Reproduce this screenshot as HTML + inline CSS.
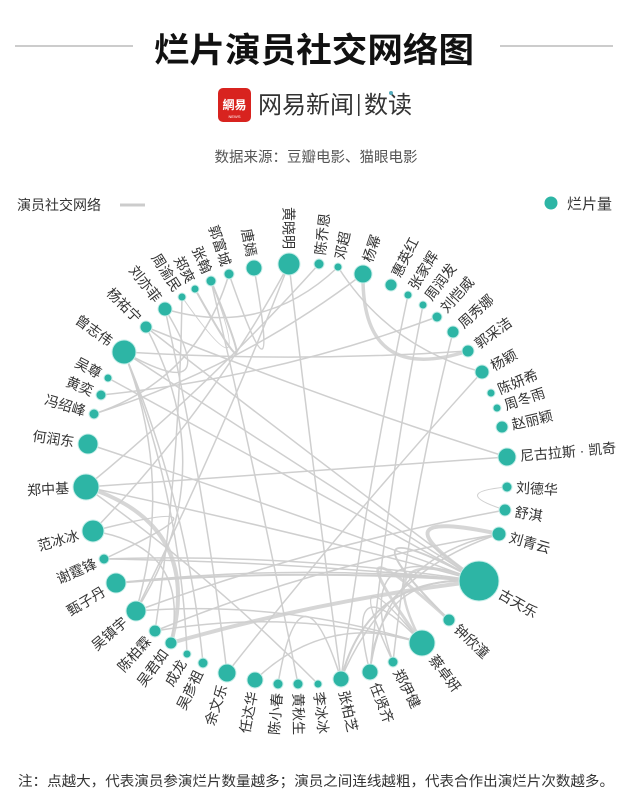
<!DOCTYPE html>
<html><head><meta charset="utf-8"><style>
body{margin:0;background:#fff;}
svg{display:block;font-family:"Liberation Sans","Noto Sans CJK SC",sans-serif;}
</style></head><body>
<svg id="s" width="627" height="803" viewBox="0 0 627 803" xmlns="http://www.w3.org/2000/svg">
<rect width="627" height="803" fill="#fff"/>
<line x1="15" y1="46" x2="133" y2="46" stroke="#bbb" stroke-width="1.5"/>
<line x1="500" y1="46" x2="613" y2="46" stroke="#bbb" stroke-width="1.5"/>
<text x="314" y="62" text-anchor="middle" font-size="34" font-weight="bold" fill="#111" textLength="320" lengthAdjust="spacingAndGlyphs">烂片演员社交网络图</text>
<rect x="218" y="88" width="33" height="34" rx="5" fill="#d8231f"/>
<text x="234.5" y="109" text-anchor="middle" font-size="12" fill="#fff" font-weight="bold">網易</text>
<text x="234.5" y="118" text-anchor="middle" font-size="4" fill="#fff">NEWS</text>
<text x="258" y="113" font-size="24" fill="#333">网易新闻</text>
<rect x="358" y="94" width="1.5" height="22" fill="#333"/>
<text x="364" y="113" font-size="24" fill="#333">数读</text>
<circle cx="391" cy="93" r="2" fill="#5ab"/>
<text x="316" y="162" text-anchor="middle" font-size="14.5" fill="#555">数据来源：豆瓣电影、猫眼电影</text>
<text x="17" y="210" font-size="14" fill="#333">演员社交网络</text>
<line x1="120" y1="205" x2="145" y2="205" stroke="#ccc" stroke-width="3"/>
<circle cx="551" cy="203" r="6.5" fill="#2db5a5"/>
<text x="567" y="209" font-size="15" fill="#333">烂片量</text>
<g id="edges" fill="none" stroke="#cfcfcf"></g>
<g id="nodes"></g>
<text x="18" y="786" font-size="14" fill="#333" textLength="596" lengthAdjust="spacingAndGlyphs">注：点越大，代表演员参演烂片数量越多；演员之间连线越粗，代表合作出演烂片次数越多。</text>
</svg>
<script>
var C=[295,475];
var N={
"黄晓明":[289,264,11],"唐嫣":[254,268,8],"郭富城":[229,274,5],"张翰":[211,281,5],"郑爽":[195,289,4],"周渝民":[182,297,4],"刘亦菲":[165,309,7],"杨祐宁":[146,327,6],"曾志伟":[124,352,12],"吴尊":[108,378,4],"黄奕":[101,395,5],"冯绍峰":[94,414,5],"何润东":[88,444,10],"郑中基":[86,487,13],
"陈乔恩":[319,264,5],"邓超":[338,267,4],"杨幂":[363,274,9],"惠英红":[391,285,6],"张家辉":[408,295,4],"周润发":[423,305,4],"刘恺威":[437,317,5],"周秀娜":[453,332,6],"郭采洁":[468,351,6],"杨颖":[482,372,7],"陈妍希":[491,393,4],"周冬雨":[497,408,4],"赵丽颖":[502,427,6],"尼古拉斯 · 凯奇":[507,457,9],"刘德华":[507,487,5],
"舒淇":[505,510,6],"刘青云":[499,534,7],"古天乐":[479,581,20],"钟欣潼":[449,620,6],"蔡卓妍":[422,643,13],"郑伊健":[393,662,5],"任贤齐":[370,672,8],"张柏芝":[341,679,8],"李冰冰":[318,684,4],
"黄秋生":[298,684,5],"陈小春":[278,684,5],"任达华":[255,680,8],"余文乐":[227,673,9],"吴彦祖":[203,663,5],"成龙":[187,654,4],"吴君如":[171,643,6],"陈柏霖":[155,631,6],"吴镇宇":[136,611,10],"甄子丹":[116,583,10],"谢霆锋":[104,559,5],"范冰冰":[93,531,11]};
var E=[["古天乐","刘青云",4,.7],["古天乐","吴君如",4,.1],["郑中基","吴君如",4,.5],["杨幂","郭采洁",3.5,.5],["古天乐","蔡卓妍",2.5,.6],["蔡卓妍","钟欣潼",3,.9],["古天乐","钟欣潼",2,.9],
["古天乐","郑中基",1.5,.1],["古天乐","曾志伟",1.5,.1],["古天乐","甄子丹",1.5,.2],["古天乐","谢霆锋",1.5,.2],["古天乐","杨祐宁",1.5,.1],["古天乐","何润东",1.5,.1],["古天乐","张柏芝",2,.4],["古天乐","任贤齐",1.5,.4],
["刘青云","任贤齐",1.5,.4],["刘青云","张柏芝",1.5,.3],["舒淇","吴镇宇",1.5,.2],["刘德华","舒淇",1,.3],["蔡卓妍","陈柏霖",1.5,.2],["蔡卓妍","吴镇宇",1.5,.2],["蔡卓妍","郑伊健",1.5,.7],["蔡卓妍","任贤齐",1.5,.6],
["黄晓明","张柏芝",1.5,.1],["黄晓明","吴镇宇",1.5,.1],["黄晓明","范冰冰",1.5,.2],["唐嫣","郭富城",1.5,.85],["张翰","郑爽",2,.8],["张翰","周渝民",1,.7],["刘亦菲","曾志伟",1.5,.6],["刘亦菲","邓超",1.5,.3],["刘亦菲","余文乐",1.5,.1],
["杨祐宁","尼古拉斯 · 凯奇",1.5,.1],["曾志伟","吴镇宇",1.5,.3],["曾志伟","吴彦祖",1.5,.2],["曾志伟","成龙",1.5,.2],["曾志伟","郭采洁",1.5,.1],["黄奕","刘恺威",1.5,.2],["冯绍峰","杨幂",1.5,.2],["吴尊","古天乐",1.5,.1],
["郑中基","尼古拉斯 · 凯奇",1.5,.05],["郑中基","陈乔恩",1.5,.1],["范冰冰","谢霆锋",1.5,.85],["范冰冰","吴君如",1.5,.4],["谢霆锋","古天乐",1.5,.1],["甄子丹","古天乐",2,.15],["吴镇宇","杨祐宁",1.5,.6],
["陈柏霖","刘青云",1.5,.2],["陈柏霖","周渝民",1.5,.1],["任达华","蔡卓妍",1.5,.3],["陈小春","张柏芝",1.5,.7],["余文乐","杨颖",1.5,.1],["李冰冰","郑中基",1.5,.1],["张柏芝","张家辉",1.5,.1],["郑伊健","周秀娜",1.5,.1],["任贤齐","周润发",1.5,.1],["郑伊健","古天乐",1.5,.7],["黄秋生","张翰",1.5,.1],["杨颖","邓超",1.5,.2],["郭富城","冯绍峰",1.5,.3]];
var ns="http://www.w3.org/2000/svg",eg=document.getElementById("edges"),ng=document.getElementById("nodes");
E.forEach(function(e){var a=N[e[0]],b=N[e[1]];var mx=(a[0]+b[0])/2,my=(a[1]+b[1])/2,f=e[3];var cx=mx+(C[0]-mx)*f*0.9,cy=my+(C[1]-my)*f*0.9;
var p=document.createElementNS(ns,"path");p.setAttribute("d","M"+a[0]+","+a[1]+"Q"+cx+","+cy+" "+b[0]+","+b[1]);p.setAttribute("stroke-width",e[2]);if(e[2]>2)p.setAttribute("stroke","#d6d6d6");eg.appendChild(p);});
for(var k in N){var n=N[k];var c=document.createElementNS(ns,"circle");c.setAttribute("cx",n[0]);c.setAttribute("cy",n[1]);c.setAttribute("r",n[2]);c.setAttribute("fill","#2db5a5");c.setAttribute("stroke","#c8eee9");c.setAttribute("stroke-width","1");ng.appendChild(c);
var dx=n[0]-C[0],dy=n[1]-C[1],L=Math.sqrt(dx*dx+dy*dy),ang=Math.atan2(dy,dx)*180/Math.PI;var d=n[2]+4;var tx=n[0]+dx/L*d,ty=n[1]+dy/L*d;
var t=document.createElementNS(ns,"text");t.textContent=k;t.setAttribute("font-size","14");t.setAttribute("fill","#333");t.setAttribute("dominant-baseline","central");
var rot=ang,anc="start";if(ang>90||ang<-90){rot=ang+180;anc="end";}if(ang<-88&&ang>-92){rot=90;anc="end";}
t.setAttribute("text-anchor",anc);t.setAttribute("x",tx);t.setAttribute("y",ty);t.setAttribute("transform","rotate("+rot+" "+tx+" "+ty+")");ng.appendChild(t);}
</script>
</body></html>
